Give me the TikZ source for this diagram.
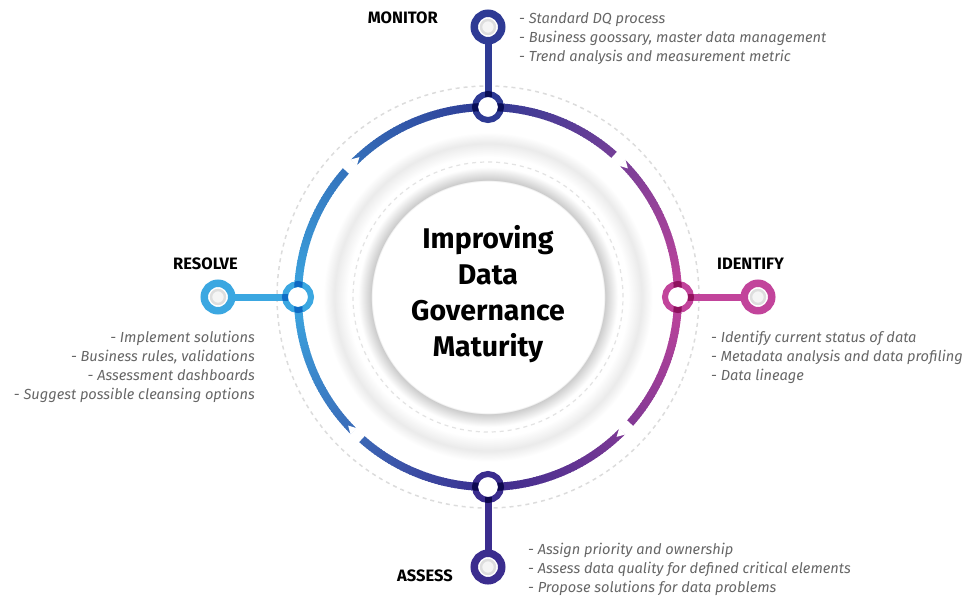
\documentclass[tikz,border=0pt]{standalone}
\usepackage{fontspec}
\setmainfont{Fira Sans}
\usetikzlibrary{positioning}
\definecolor{cmon}{HTML}{2E3A94}
\definecolor{cide}{HTML}{C2449B}
\definecolor{cass}{HTML}{3B2D8E}
\definecolor{cres}{HTML}{3BA7E1}
\definecolor{cnote}{HTML}{666666}
\definecolor{cdash}{HTML}{DCDCDC}
\pgfdeclareradialshading{discshade}{\pgfpoint{0bp}{0bp}}{color(0bp)=(white); color(17.05bp)=(white); color(17.2bp)=(black!20); color(19.1bp)=(white); color(20.6bp)=(white); color(22.6bp)=(black!8); color(24.2bp)=(white); color(50bp)=(white)}
\tikzset{
  hub/.style={circle, fill=white, inner sep=0pt, minimum size=20pt},
  stage/.style={font=\bfseries\fontsize{16.5}{18}\selectfont, inner sep=0pt},
  notes/.style={font=\itshape\fontsize{14.6}{19}\selectfont, text=cnote, inner sep=0pt},
  link/.style={line width=7pt},
}
\begin{document}
\begin{tikzpicture}[x=1pt,y=1pt]
    \def\R{190}
    \def\far{270}
    \useasboundingbox (-488,-298) rectangle (480,297);
    \shade[shading=discshade] (0,0) circle (170);
    \draw[cdash, line width=1.5pt, dash pattern=on 4pt off 4pt] (0,0) circle (211);
    \draw[cdash!80, line width=1.2pt, dash pattern=on 4pt off 4pt] (0,0) circle (135);
    \foreach \a in {0,...,359}{
        \pgfmathtruncatemacro\q{\a/90}
        \pgfmathtruncatemacro\p{(\a-90*\q)*100/90}
        \ifcase\q \colorlet{arcc}{cmon!\p!cide}
        \or \colorlet{arcc}{cres!\p!cmon}
        \or \colorlet{arcc}{cass!\p!cres}
        \else \colorlet{arcc}{cide!\p!cass}\fi
        \draw[arcc, line width=8pt] (\a:\R) arc (\a:\a+1.3:\R);
    }
    \foreach \d in {45,135,225,315}{
        \draw[white, line width=14pt] (\d+3.4:\R) arc (\d+3.4:\d:\R);
        \fill[white] (\d+0.1:\R+4.6) -- (\d-2.4:\R) -- (\d+0.1:\R-4.6) -- cycle;
    }
    \node[hub] (monR) at (90:\R) {};
    \node[hub] (ideR) at (0:\R) {};
    \node[hub] (assR) at (270:\R) {};
    \node[hub] (resR) at (180:\R) {};
    \node[hub] (mon) at (90:\far) {};
    \node[hub] (ide) at (0:\far) {};
    \node[hub] (ass) at (270:\far) {};
    \node[hub] (res) at (180:\far) {};
    \draw[link, cmon] (mon) -- (monR);
    \draw[link, cide] (ide) -- (ideR);
    \draw[link, cass] (ass) -- (assR);
    \draw[link, cres] (res) -- (resR);
    \begin{scope}[blend mode=multiply]
        \draw[cmon, line width=6pt] (monR.center) circle (13);
        \draw[cide, line width=6pt] (ideR.center) circle (13);
        \draw[cass, line width=6pt] (assR.center) circle (13);
        \draw[cres, line width=6pt] (resR.center) circle (13);
    \end{scope}
    \foreach \n/\c in {mon/cmon, ide/cide, ass/cass, res/cres}{
        \draw[\c, line width=7.5pt] (\n.center) circle (13.75);
        \draw[black!13, line width=2.5pt, fill=black!4] (\n.center) circle (7);
    }
    \node[align=center, font=\bfseries\fontsize{28.5}{36}\selectfont] (title) at (0,3) {Improving\\Data\\Governance\\Maturity};
    \node[stage, anchor=east] (monT) at (-50,279) {MONITOR};
    \node[stage, anchor=west] (ideT) at (229,33) {IDENTIFY};
    \node[stage, anchor=east] (resT) at (-250,33) {RESOLVE};
    \node[stage, anchor=east] (assT) at (-35,-279) {ASSESS};
    \node[notes, anchor=west, align=left] (monN) at (31,258) {- Standard DQ process\\- Business goossary, master data management\\- Trend analysis and measurement metric};
    \node[notes, anchor=west, align=left] (ideN) at (223,-60) {- Identify current status of data\\- Metadata analysis and data profiling\\- Data lineage};
    \node[notes, anchor=east, align=right] (resN) at (-233,-69.5) {- Implement solutions\\- Business rules, validations\\- Assessment dashboards\\- Suggest possible cleansing options};
    \node[notes, anchor=west, align=left] (assN) at (40,-272) {- Assign priority and ownership\\- Assess data quality for defined critical elements\\- Propose solutions for data problems};
\end{tikzpicture}
\end{document}
